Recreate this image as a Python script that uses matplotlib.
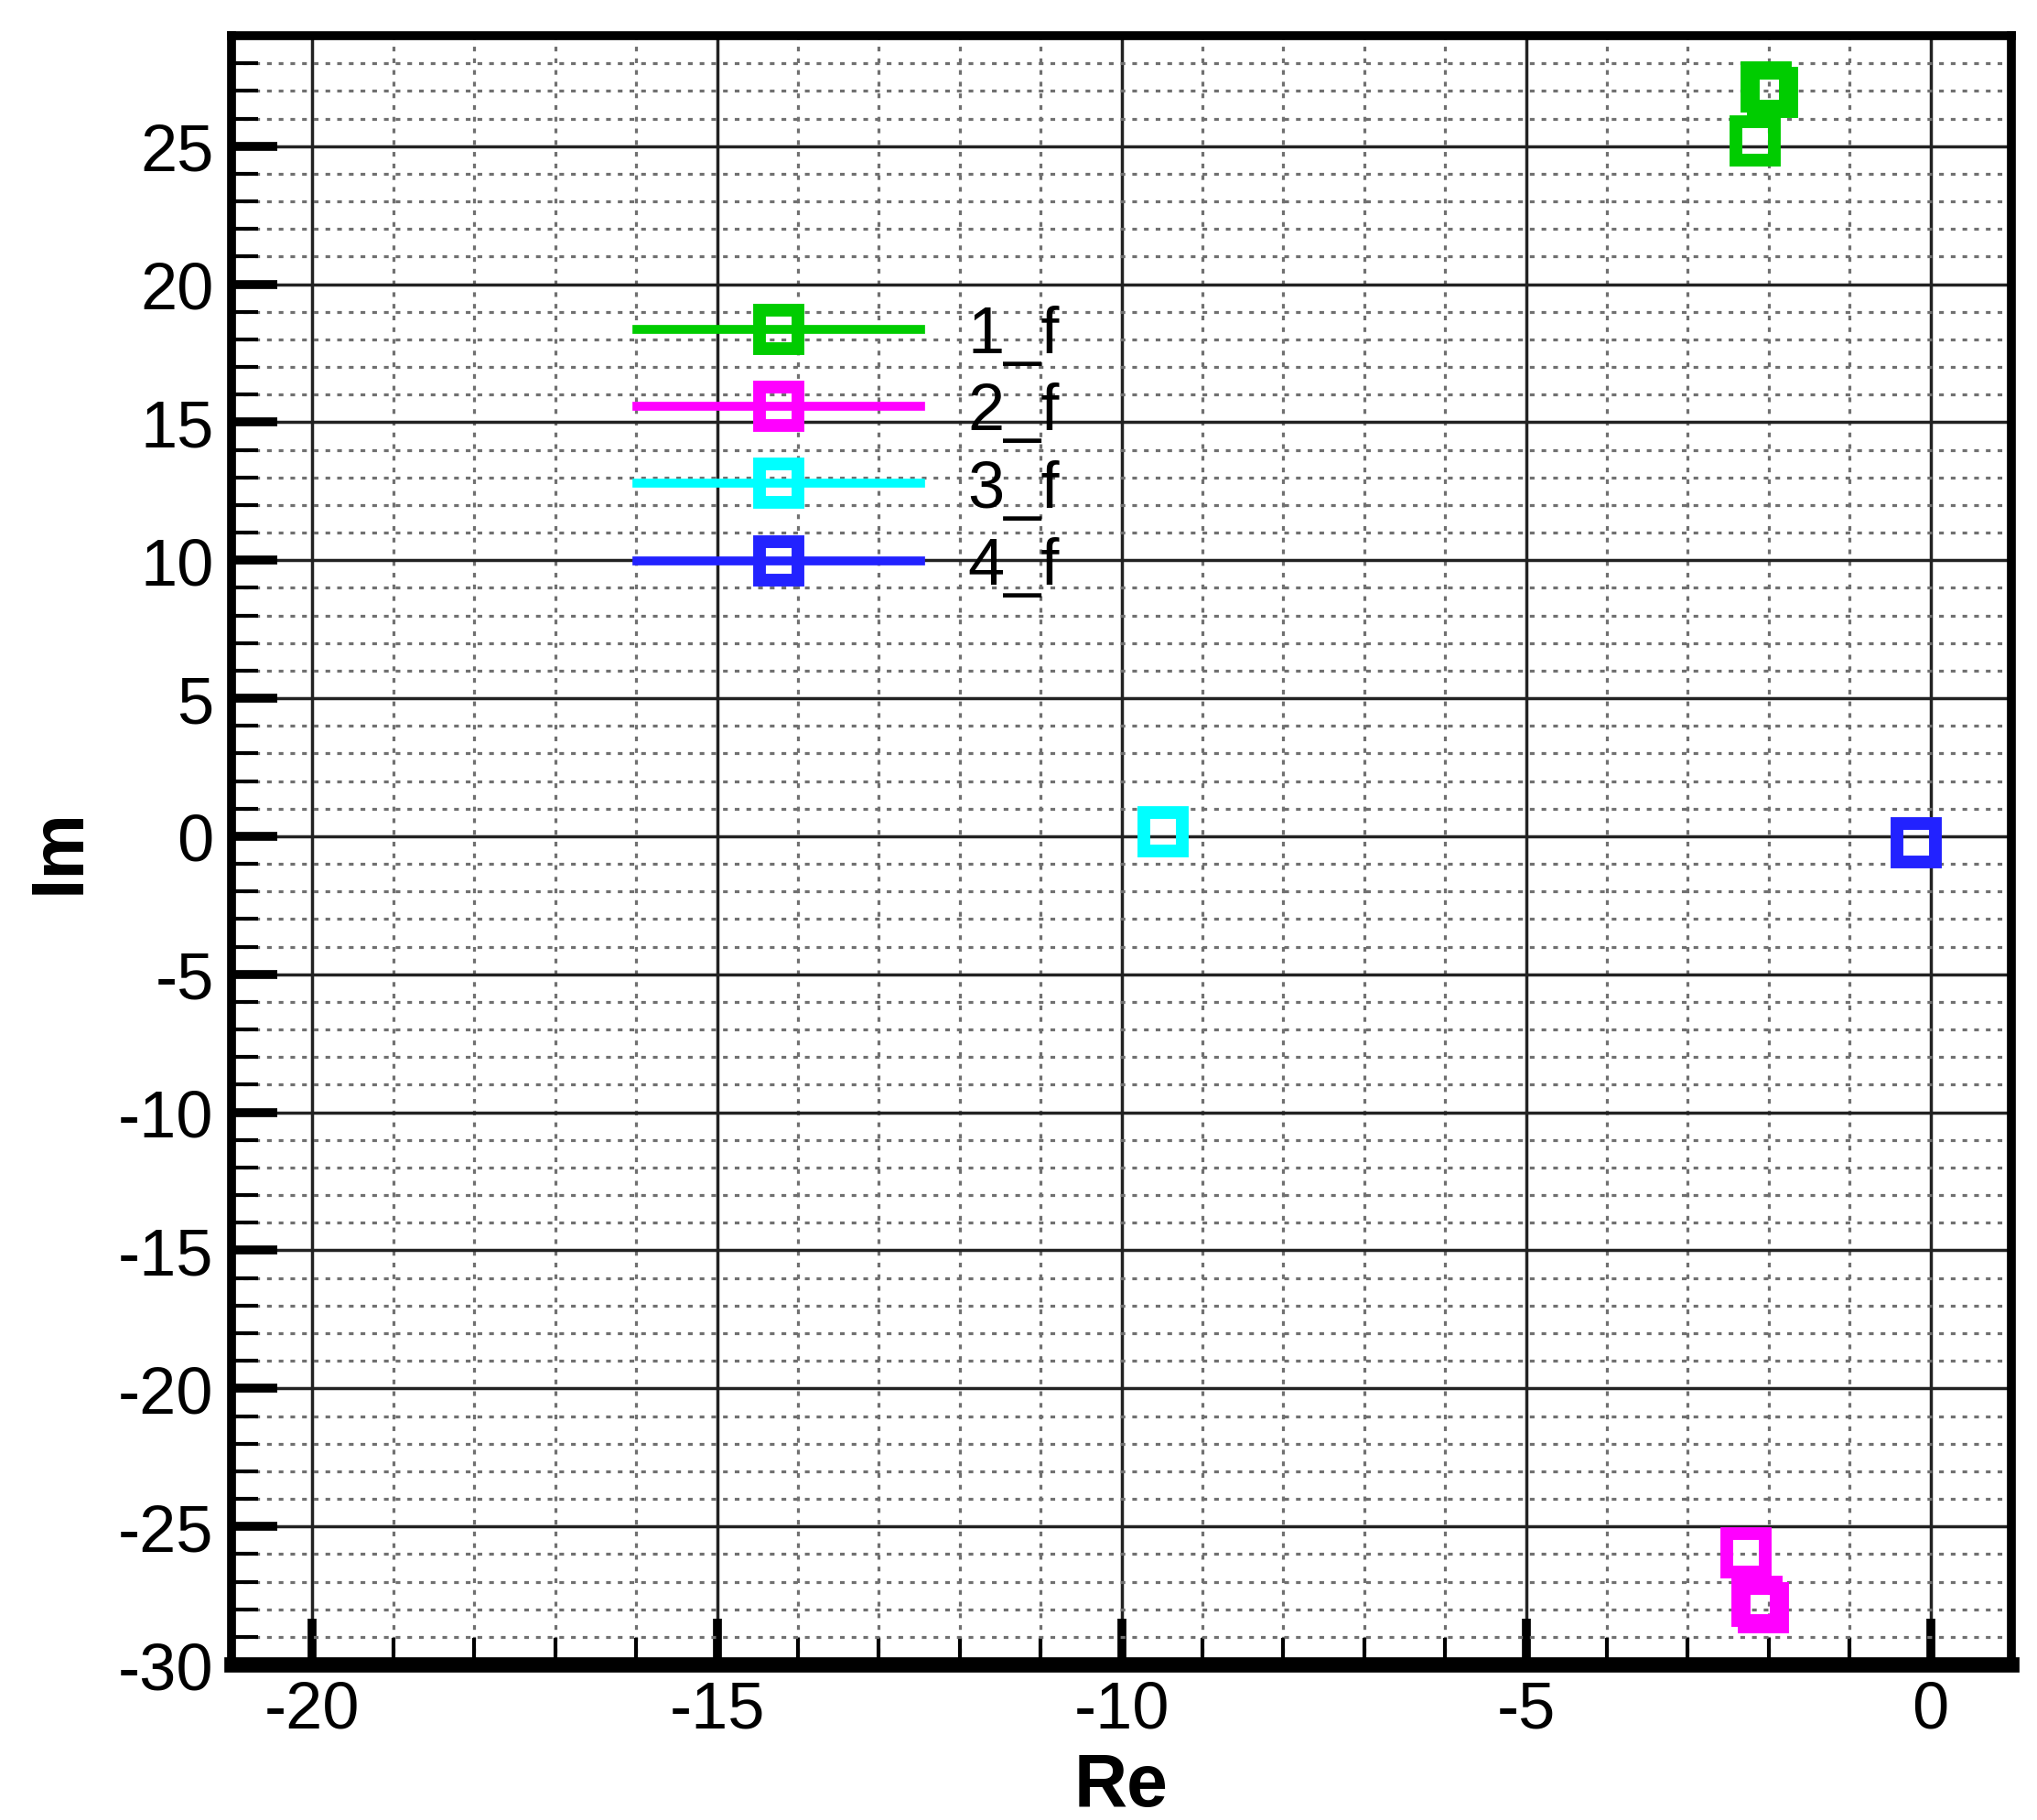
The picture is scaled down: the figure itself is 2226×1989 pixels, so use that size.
import matplotlib
matplotlib.use("Agg")
import matplotlib.pyplot as plt
from matplotlib.lines import Line2D
from matplotlib.ticker import MultipleLocator

plt.rcParams['font.family'] = ['Liberation Sans', 'DejaVu Sans']
plt.rcParams['axes.unicode_minus'] = False

# eigenvalues (Re, Im)
labels = ['1_f', '2_f', '3_f', '4_f']
colors = ['#00cc00', '#ff00ff', '#00ffff', '#2222ff']
re_1f = [-2.17, -2.03, -1.95]
im_1f = [25.2, 27.15, 26.95]
re_2f = [-2.28, -2.14, -2.06]
im_2f = [-25.95, -27.7, -27.95]
re_3f = [-9.48]
im_3f = [0.15]
re_4f = [-0.18]
im_4f = [-0.22]
series_re = [re_1f, re_2f, re_3f, re_4f]
series_im = [im_1f, im_2f, im_3f, im_4f]

DPI = 100
fig = plt.figure(figsize=(2226 / DPI, 1990 / DPI), dpi=DPI)
ax = fig.add_axes([0.1137, 0.0854, 0.9874 - 0.1137, 0.9799 - 0.0854])

ms, mew = 30, 10
for xs, ys, c in zip(series_re, series_im, colors):
    ax.plot(xs, ys, ls='none', marker='s', ms=ms, mew=mew, mec=c, mfc='none',
            zorder=5, clip_on=False)

ax.set_xlim(-21, 1)
ax.set_ylim(-30, 29)
ax.xaxis.set_major_locator(MultipleLocator(5))
ax.xaxis.set_minor_locator(MultipleLocator(1))
ax.yaxis.set_major_locator(MultipleLocator(5))
ax.yaxis.set_minor_locator(MultipleLocator(1))

ax.grid(which='major', color='#222222', lw=2.5, ls='-', zorder=1)
ax.grid(which='minor', color='#707070', lw=2.3, ls=(0, (1.6, 2.4)), zorder=1)
ax.set_axisbelow(True)

ax.tick_params(which='major', direction='in', length=36, width=7,
               labelsize=52, pad=14, top=False, right=False)
ax.tick_params(which='minor', direction='in', length=21, width=3,
               top=False, right=False)
ax.tick_params(axis='x', which='major', pad=12)

for side in ['left', 'top', 'right']:
    ax.spines[side].set_linewidth(7)
ax.spines['bottom'].set_linewidth(12)

ax.set_xlabel('Re', fontsize=58, fontweight='bold', labelpad=8)
ax.set_ylabel('Im', fontsize=58, fontweight='bold', labelpad=18)

handles = [Line2D([], [], color=c, lw=7, marker='s', ms=ms, mew=mew,
                  mec=c, mfc='none') for c in colors]
ax.legend(handles, labels, loc='center left', bbox_to_anchor=(0.2277, 0.745),
          frameon=False, fontsize=52, handlelength=4.3, handletextpad=0.7,
          labelspacing=0.24, borderpad=0, borderaxespad=0)

plt.savefig('out.png', dpi=DPI)
